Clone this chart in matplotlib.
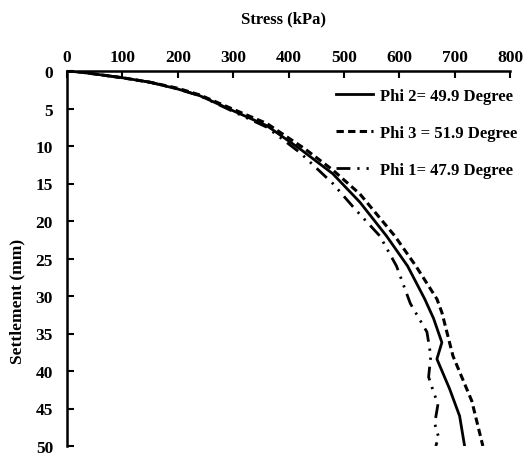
import matplotlib
matplotlib.use("Agg")
import matplotlib.pyplot as plt

# Data (stress in kPa, settlement in mm)
phi2_stress = [0, 25, 50, 100, 150, 200, 240, 300, 361, 421, 480, 529, 577, 615, 646, 662, 677, 668, 691, 709, 718]
phi2_settle = [0, 0.15, 0.4, 0.9, 1.5, 2.4, 3.3, 5.3, 7.3, 10.4, 13.7, 17.5, 22.0, 26.0, 30.4, 33.0, 36.2, 38.4, 42.4, 46.0, 50.0]

phi3_stress = [0, 25, 50, 100, 150, 200, 240, 300, 361, 430, 480, 529, 592, 630, 668, 677, 697, 731, 751]
phi3_settle = [0, 0.15, 0.4, 0.9, 1.5, 2.3, 3.2, 5.1, 7.0, 10.4, 13.2, 16.4, 22.0, 26.0, 30.4, 32.2, 38.0, 44.0, 50.0]

phi1_stress = [0, 25, 50, 100, 150, 200, 240, 300, 361, 421, 480, 520, 565, 595, 620, 650, 657, 653, 661, 670, 664, 671, 666]
phi1_settle = [0, 0.15, 0.4, 0.9, 1.5, 2.4, 3.3, 5.4, 7.5, 10.9, 15.0, 18.4, 22.0, 26.0, 31.0, 34.8, 38.0, 40.8, 42.6, 44.4, 47.0, 48.8, 50.0]

labels = ["Phi 2= 49.9 Degree", "Phi 3 = 51.9 Degree", "Phi 1= 47.9 Degree"]
x_ticks = [0, 100, 200, 300, 400, 500, 600, 700, 800]
y_ticks = [0, 5, 10, 15, 20, 25, 30, 35, 40, 45, 50]

plt.rcParams['font.family'] = ['Liberation Serif', 'DejaVu Serif']
plt.rcParams['font.weight'] = 'bold'

fig = plt.figure(figsize=(5.32, 4.56), dpi=100)
ax = fig.add_axes([67/532, 1 - 447/456, (510-67)/532, (447-72)/456])

ax.plot(phi2_stress, phi2_settle, color='black', lw=2.0, linestyle='-', label=labels[0])
ax.plot(phi3_stress, phi3_settle, color='black', lw=2.2, linestyle=(0, (2.4, 1.4)), label=labels[1])
ax.plot(phi1_stress, phi1_settle, color='black', lw=2.0, linestyle=(0, (5, 2.5, 0.8, 2.5, 0.8, 2.5)), label=labels[2])

ax.set_xlim(0, 800)
ax.set_ylim(50, 0)
ax.xaxis.set_label_position('top')
ax.xaxis.tick_top()
ax.set_xticks(x_ticks)
ax.set_yticks(y_ticks)
ax.tick_params(direction='in', length=5, width=1.5, labelsize=12.5)
ax.tick_params(axis='x', pad=4)
ax.tick_params(axis='y', pad=10)
for lab in ax.get_xticklabels() + ax.get_yticklabels():
    lab.set_fontweight('bold')
ax.spines['right'].set_visible(False)
ax.spines['bottom'].set_visible(False)
ax.spines['top'].set_linewidth(1.8)
ax.spines['left'].set_linewidth(1.8)

ax.set_xlabel("Stress (kPa)", fontsize=12, fontweight='bold')
ax.set_ylabel("Settlement (mm)", fontsize=12.5, fontweight='bold')
ax.xaxis.set_label_coords(0.488, 1.139)
ax.yaxis.set_label_coords(-0.113, 0.387)
ax.xaxis.label.set_verticalalignment('center')
ax.yaxis.label.set_verticalalignment('center')

leg = ax.legend(loc='upper right', bbox_to_anchor=(1.042, 0.985), frameon=False,
                fontsize=12, handlelength=2.2, labelspacing=1.25, handletextpad=0.4,
                borderaxespad=0.3)
for t in leg.get_texts():
    t.set_fontweight('bold')

fig.savefig("out.png", dpi=100)
